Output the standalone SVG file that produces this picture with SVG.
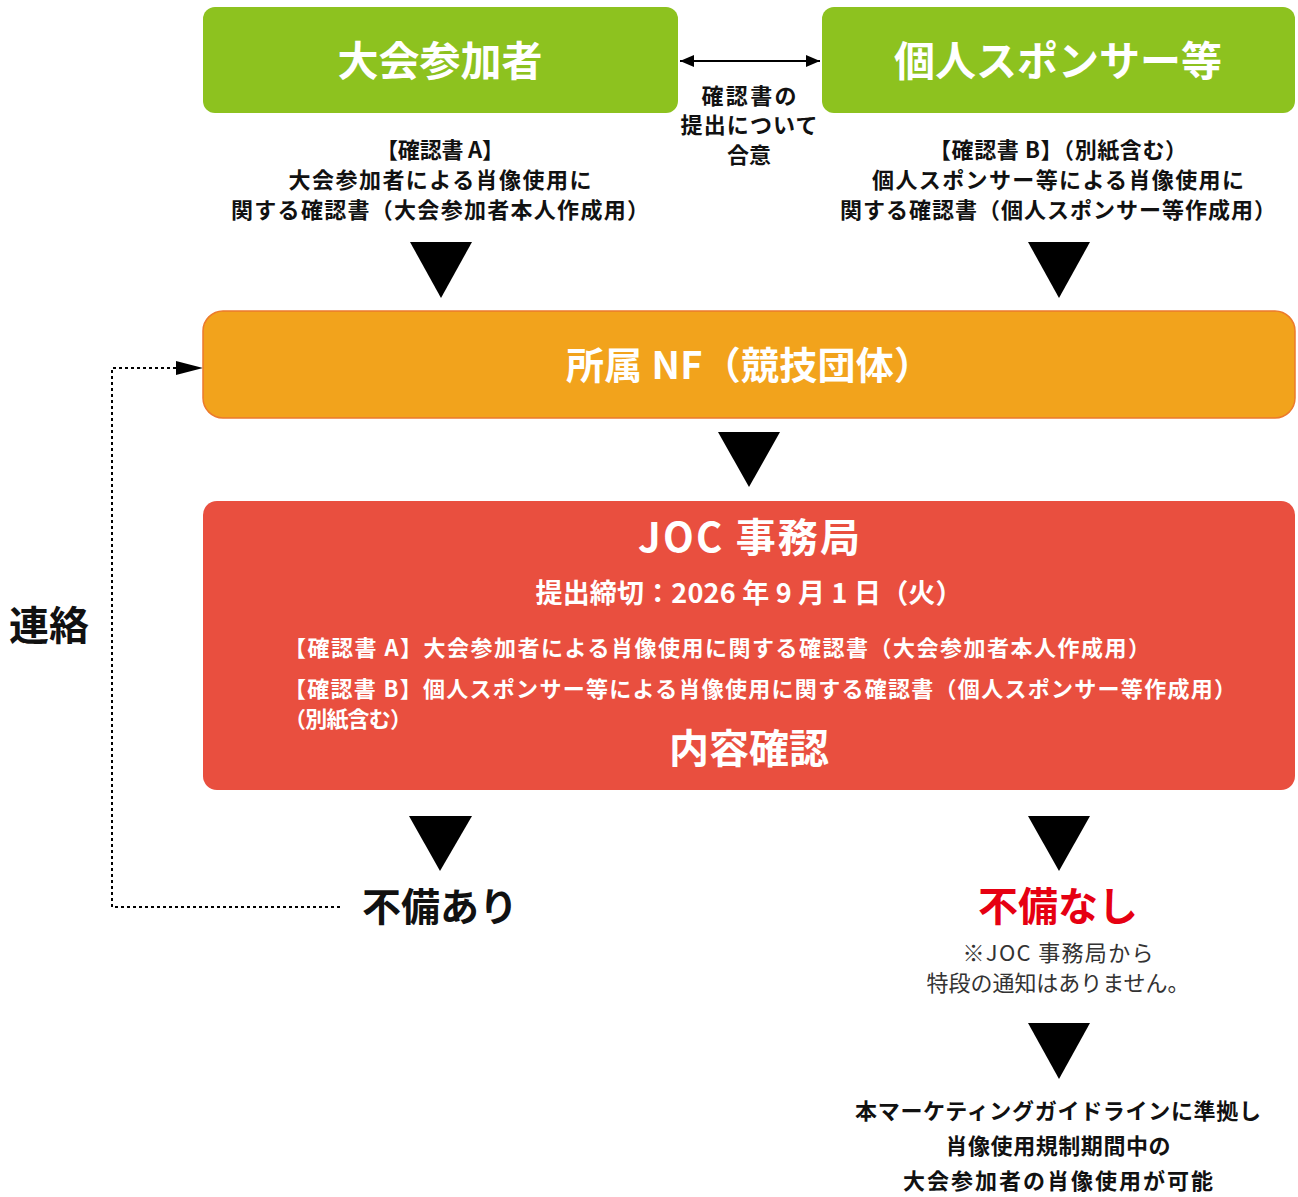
<svg xmlns="http://www.w3.org/2000/svg" width="1298" height="1197" viewBox="0 0 1298 1197">
<defs>
<style>
text{font-family:"Noto Sans CJK JP","Noto Sans",sans-serif;text-anchor:middle;dominant-baseline:central}
.b{font-weight:700}
.w{fill:#ffffff}
.k{fill:#111111}
.s22{font-size:22px}
.tri{fill:#000000}
</style>
<marker id="ah" viewBox="0 0 14 12" refX="14" refY="6" markerWidth="14" markerHeight="12" orient="auto-start-reverse" markerUnits="userSpaceOnUse">
<path d="M0,0 L14,6 L0,12 z" fill="#000"/>
</marker>
</defs>
<rect width="1298" height="1197" fill="#ffffff"/>

<g id="connectors">
<line x1="680" y1="61" x2="820" y2="61" stroke="#000" stroke-width="2" marker-start="url(#ah)" marker-end="url(#ah)"/>
<polyline points="340,907 112,907 112,368 178,368" fill="none" stroke="#000" stroke-width="2" stroke-dasharray="3,3"/>
<path d="M176,361 L203,368 L176,375 z" fill="#000"/>
<path class="tri" d="M410,242 L472,242 L441,298 z"/>
<path class="tri" d="M1028,242 L1090,242 L1059,298 z"/>
<path class="tri" d="M718,432 L780,432 L749,487 z"/>
<path class="tri" d="M409,816 L472,816 L440,871 z"/>
<path class="tri" d="M1028,816 L1090,816 L1059,871 z"/>
<path class="tri" d="M1028,1023 L1090,1023 L1059,1079 z"/>
</g>

<g id="n-participant">
<rect x="203" y="7" width="475" height="106" rx="12" fill="#8dc21f"/>
<text x="440" y="58" class="b w" font-size="41">大会参加者</text>
</g>
<g id="n-sponsor">
<rect x="822" y="7" width="473" height="106" rx="12" fill="#8dc21f"/>
<text x="1058" y="58" class="b w" font-size="41">個人スポンサー等</text>
</g>
<g id="l-agree">
<text x="749" y="94" class="b k s22" textLength="95">確認書の</text>
<text x="749" y="123" class="b k s22" textLength="137">提出について</text>
<text x="749" y="153" class="b k s22">合意</text>
</g>
<g id="l-docA">
<text x="440" y="148" class="b k s22" textLength="128">【確認書 A】</text>
<text x="440" y="178" class="b k s22" textLength="303">大会参加者による肖像使用に</text>
<text x="440" y="208" class="b k s22" textLength="418">関する確認書（大会参加者本人作成用）</text>
</g>
<g id="l-docB">
<text x="1058" y="148" class="b k s22" textLength="258">【確認書 B】（別紙含む）</text>
<text x="1058" y="178" class="b k s22" textLength="372">個人スポンサー等による肖像使用に</text>
<text x="1058" y="208" class="b k s22" textLength="436">関する確認書（個人スポンサー等作成用）</text>
</g>

<g id="n-nf">
<rect x="203" y="311" width="1092" height="107" rx="20" fill="#f2a31c" stroke="#ec7a2c" stroke-width="1.5"/>
<text x="749" y="362" class="b w" font-size="38" textLength="366">所属 NF（競技団体）</text>
</g>

<g id="n-joc">
<rect x="203" y="501" width="1092" height="289" rx="14" fill="#e94f3f"/>
<text x="749" y="535" class="b w" font-size="40" textLength="222">JOC 事務局</text>
<text x="749" y="591" class="b w" font-size="27" textLength="427">提出締切：2026 年 9 月 1 日（火）</text>
<text x="284" y="646" class="b w s22" style="text-anchor:start" textLength="866">【確認書 A】大会参加者による肖像使用に関する確認書（大会参加者本人作成用）</text>
<text x="284" y="687" class="b w s22" style="text-anchor:start" textLength="952">【確認書 B】個人スポンサー等による肖像使用に関する確認書（個人スポンサー等作成用）</text>
<text x="284" y="717" class="b w s22" style="text-anchor:start" textLength="128">（別紙含む）</text>
<text x="749" y="746" class="b w" font-size="40">内容確認</text>
</g>

<g id="n-ng">
<text x="440" y="904" class="b k" font-size="39">不備あり</text>
</g>
<g id="n-ok">
<text x="1058" y="904" class="b" font-size="40" fill="#e60012">不備なし</text>
<text x="1058" y="951" class="s22" fill="#333333" textLength="191">※JOC 事務局から</text>
<text x="1058" y="981" class="s22" fill="#333333" textLength="263">特段の通知はありません。</text>
</g>
<g id="n-result">
<text x="1058" y="1109" class="b k s22" textLength="406">本マーケティングガイドラインに準拠し</text>
<text x="1058" y="1144" class="b k s22" textLength="225">肖像使用規制期間中の</text>
<text x="1058" y="1179" class="b k s22" textLength="310">大会参加者の肖像使用が可能</text>
</g>
<g id="l-contact">
<text x="49" y="623" class="b k" font-size="40">連絡</text>
</g>
</svg>
